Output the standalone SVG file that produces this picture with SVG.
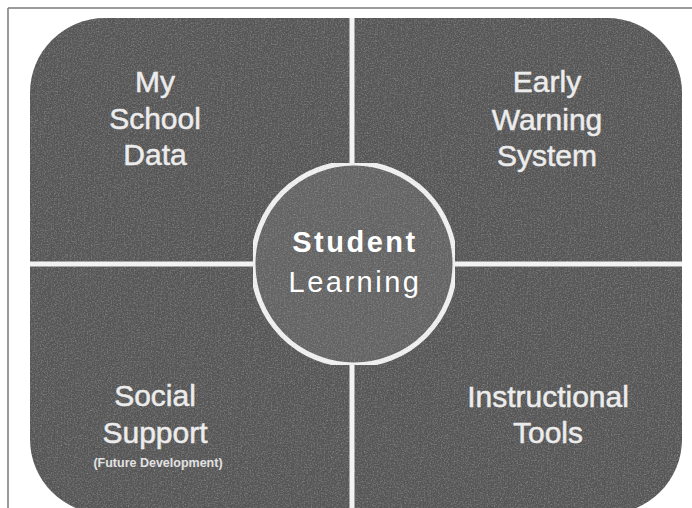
<svg xmlns="http://www.w3.org/2000/svg" width="692" height="508" viewBox="0 0 692 508">
  <style>
    .lbl { font-family: "Liberation Sans", Arial, sans-serif; font-size: 30px; fill: #ececec; stroke: #ececec; stroke-width: 0.5px; text-anchor: middle; }
    .small { font-family: "Liberation Sans", Arial, sans-serif; font-size: 12.5px; font-weight: bold; fill: #e2e2e2; text-anchor: middle; }
    .ctr { font-family: "Liberation Sans", Arial, sans-serif; font-size: 29px; fill: #ffffff; text-anchor: middle; letter-spacing: 2.5px; }
    .div { stroke: #f2f2f2; stroke-width: 5; fill: none; }
  </style>
  <defs>
    <filter id="grain" x="0" y="0" width="100%" height="100%">
      <feTurbulence type="fractalNoise" baseFrequency="0.7" numOctaves="2" seed="3" result="n"/>
      <feColorMatrix in="n" type="matrix" values="0 0 0 0 0.45  0 0 0 0 0.45  0 0 0 0 0.45  0.4 0.4 0.4 0 -0.55" result="g"/>
      <feComposite in="g" in2="SourceGraphic" operator="in" result="gc"/>
      <feMerge><feMergeNode in="SourceGraphic"/><feMergeNode in="gc"/></feMerge>
    </filter>
  </defs>
  <rect width="692" height="508" fill="#ffffff"/>
  <g id="frame" stroke="#7a7a7a" stroke-width="1.5">
    <line x1="8" y1="8" x2="692" y2="8"/>
    <line x1="8" y1="8" x2="8" y2="508"/>
  </g>
  <g id="panel">
    <rect x="30" y="18" width="652" height="496" rx="75" ry="75" fill="#575757" filter="url(#grain)"/>
  </g>
  <g id="connectors">
    <line class="div" x1="352" y1="18" x2="352" y2="514"/>
    <line class="div" x1="30" y1="264" x2="682" y2="264"/>
  </g>
  <g id="my-school-data">
    <text class="lbl" x="155" y="92">My</text>
    <text class="lbl" x="155" y="129">School</text>
    <text class="lbl" x="155" y="165">Data</text>
  </g>
  <g id="early-warning-system">
    <text class="lbl" x="547" y="92">Early</text>
    <text class="lbl" x="547" y="130">Warning</text>
    <text class="lbl" x="547" y="166">System</text>
  </g>
  <g id="social-support">
    <text class="lbl" x="155" y="406">Social</text>
    <text class="lbl" x="155" y="443">Support</text>
    <text class="small" x="158" y="467">(Future Development)</text>
  </g>
  <g id="instructional-tools">
    <text class="lbl" x="548" y="407">Instructional</text>
    <text class="lbl" x="548" y="443">Tools</text>
  </g>
  <g id="student-learning">
    <circle cx="354" cy="264" r="101" fill="#646464" stroke="#f2f2f2" stroke-width="5" filter="url(#grain)"/>
    <text class="ctr" x="355" y="252" font-weight="bold">Student</text>
    <text class="ctr" x="355" y="292">Learning</text>
  </g>
</svg>
